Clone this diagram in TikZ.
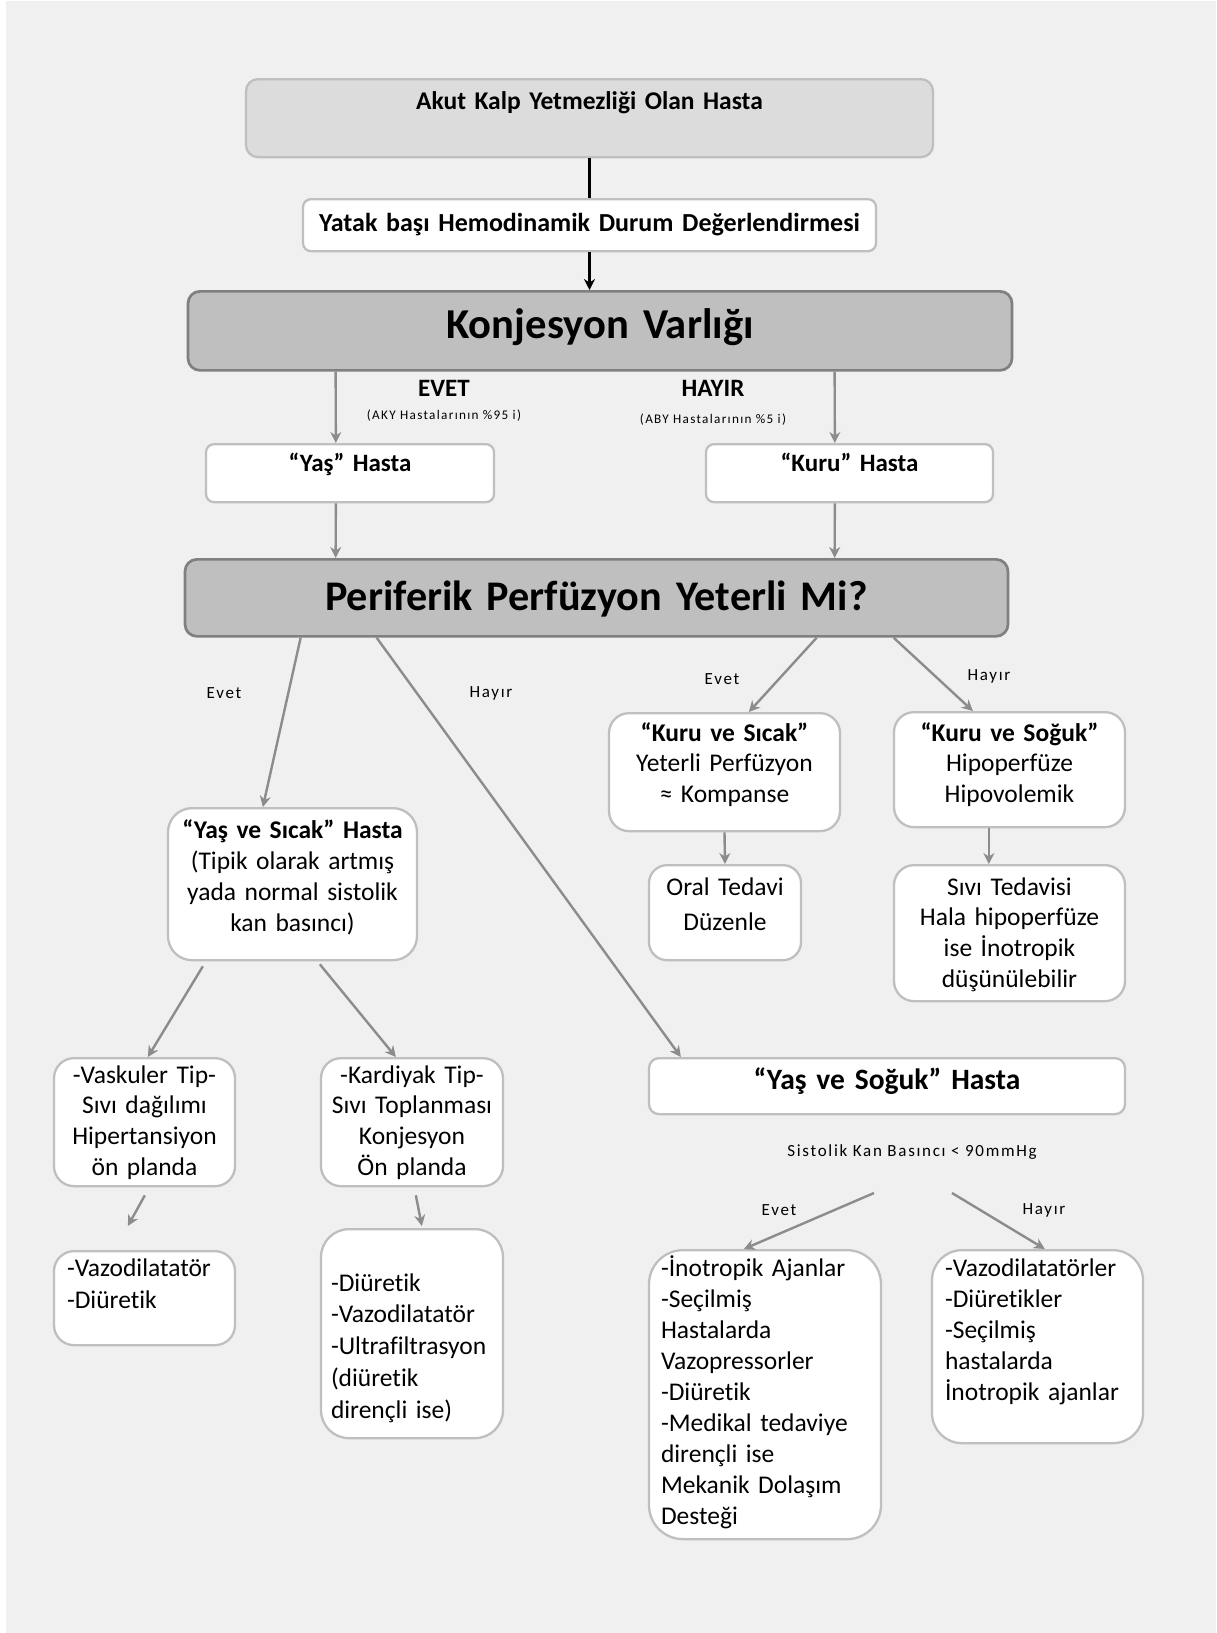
\documentclass[tikz,border=0pt]{standalone}
\usepackage{fontspec}
\setmainfont{Carlito}[Ligatures=NoCommon]
\newfontfamily\spacedfont[LetterSpace=10,Ligatures=NoCommon]{Carlito}
\usetikzlibrary{calc,arrows.meta}
\definecolor{bggrey}{HTML}{F0F0F0}
\definecolor{boxline}{HTML}{BFBFBF}
\definecolor{lightfill}{HTML}{DCDCDC}
\definecolor{darkfill}{HTML}{BFBFBF}
\definecolor{darkline}{HTML}{808080}
\definecolor{connline}{HTML}{8C8C8C}
\tikzset{every node/.style={font=\fontsize{12.75}{15.5}\selectfont},
  box/.style={draw=boxline,fill=white,line width=1.15pt,anchor=north,
    inner ysep=0pt,inner xsep=0pt,align=center},
  darkbox/.style={box,draw=darkline,fill=darkfill,line width=1.35pt,rounded corners=6pt},
  leftbox/.style={box,align=left},
  conn/.style={draw=connline,line width=1.2pt,-{Stealth[length=5.5pt,width=5.5pt]}},
  topline/.style={draw=black,line width=1.6pt},
  smalllabel/.style={font=\spacedfont\fontsize{8.5}{10}\selectfont},
  tinylabel/.style={font=\spacedfont\fontsize{6.6}{8}\selectfont},
  caselabel/.style={font=\bfseries\fontsize{12.5}{15}\selectfont}}

\begin{document}
\begin{tikzpicture}[x=0.5pt,y=-0.5pt]
  \useasboundingbox (0,0) rectangle (1216,1633);
  \fill[white] (0,0) rectangle (1216,1633);
  \fill[bggrey] (6,1) rectangle (1216,1633);
  % top of the chart
  \node[box,fill=lightfill,rounded corners=6pt,text width=343.5pt,text height=15.25pt,
    text depth=23.75pt,font=\bfseries\fontsize{12.75}{15.5}\selectfont] (akut) at (589.5,78)
    {Akut Kalp Yetmezliği Olan Hasta};
  \node[box,rounded corners=4pt,text width=286.5pt,text height=16pt,text depth=10pt,
    font=\bfseries\fontsize{13}{15.5}\selectfont] (yatak) at (589.5,198)
    {Yatak başı Hemodinamik Durum Değerlendirmesi};
  \node[darkbox,text width=412pt,text height=23.5pt,text depth=16pt,
    font=\bfseries\fontsize{21.3}{25}\selectfont] (konj) at (600,290) {Konjesyon Varlığı};
  \draw[topline] (akut.south) -- (yatak.north);
  \draw[topline,-{Stealth[length=5.5pt,width=5.5pt]}] (yatak.south) -- (yatak.south |- konj.north);
  % wet / dry
  \node[caselabel] (evet) at (444,388) {EVET};
  \node[tinylabel] (evetpct) at (444,416) {(AKY Hastalarının \%95 i)};
  \node[caselabel] (hayir) at (713,388) {HAYIR};
  \node[tinylabel] (hayirpct) at (713,420) {(ABY Hastalarının \%5 i)};
  \node[box,rounded corners=4pt,text width=144pt,text height=13.75pt,text depth=15.25pt,
    font=\bfseries\fontsize{12.5}{15}\selectfont] (yas) at (350,443) {“Yaş” Hasta};
  \node[box,rounded corners=4pt,text width=143.5pt,text height=13.75pt,text depth=15.25pt,
    font=\bfseries\fontsize{12.5}{15}\selectfont] (kuru) at (849.5,443) {“Kuru” Hasta};
  \node[darkbox,text width=411.5pt,text height=25.5pt,text depth=13pt,
    font=\bfseries\fontsize{21.1}{25}\selectfont] (perf) at (596.5,558)
    {Periferik Perfüzyon Yeterli Mi?};
  \draw[conn] ($(konj.south west)+(149,0)$) -- ($(yas.north west)+(131,0)$);
  \draw[conn] ($(konj.south west)+(648,0)$) -- ($(kuru.north west)+(130,0)$);
  \draw[conn] ($(yas.south west)+(131,0)$) -- ($(perf.north west)+(152,0)$);
  \draw[conn] ($(kuru.south west)+(130,0)$) -- ($(perf.north west)+(651,0)$);
  % perfusion branches
  \node[smalllabel] (evetsol) at (224,693) {Evet};
  \node[smalllabel] (hayirsol) at (491,693) {Hayır};
  \node[smalllabel] (evetsag) at (722,679) {Evet};
  \node[smalllabel] (hayirsag) at (989,676) {Hayır};
  \node[box,rounded corners=10pt,text width=115.5pt,text height=14pt,text depth=45pt,
    font=\fontsize{12.75}{15.25}\selectfont] (kurusicak) at (724.5,712)
    {\textbf{“Kuru ve Sıcak”}\\Yeterli Perfüzyon\\≈ Kompanse};
  \node[box,rounded corners=10pt,text width=115.5pt,text height=14.5pt,text depth=43pt,
    font=\fontsize{12.75}{15.25}\selectfont] (kurusoguk) at (1009.5,711)
    {\textbf{“Kuru ve Soğuk”}\\Hipoperfüze\\Hipovolemik};
  \node[box,rounded corners=9pt,text width=76pt,text height=15pt,text depth=32.5pt,
    font=\fontsize{12.75}{17.5}\selectfont] (oral) at (725,864) {Oral Tedavi\\Düzenle};
  \node[box,rounded corners=10pt,text width=115.5pt,text height=15pt,text depth=53pt,
    font=\fontsize{12.75}{15.35}\selectfont] (sivi) at (1009.5,864)
    {Sıvı Tedavisi\\Hala hipoperfüze\\ise İnotropik\\düşünülebilir};
  \node[box,rounded corners=12pt,text width=124.5pt,text height=15pt,text depth=61pt,
    font=\fontsize{12.75}{15.6}\selectfont] (yassicak) at (292.5,807)
    {\textbf{“Yaş ve Sıcak” Hasta}\\(Tipik olarak artmış\\yada normal sistolik\\kan basıncı)};
  \draw[conn] ($(perf.south west)+(117,0)$) -- ($(yassicak.north west)+(96,0)$);
  \draw[conn] ($(perf.south west)+(633,0)$) -- ($(kurusicak.north west)+(141,0)$);
  \draw[conn] ($(perf.south west)+(710,0)$) -- ($(kurusoguk.north west)+(80,0)$);
  \draw[conn] (kurusicak.south) -- (oral.north);
  \draw[conn] ($(kurusoguk.south west)+(96,0)$) -- ($(sivi.north west)+(96,0)$);
  % wet and warm
  \node[box,rounded corners=10pt,text width=90.5pt,text height=12.5pt,text depth=51.5pt,
    font=\fontsize{12.75}{15.35}\selectfont] (vaskuler) at (144.5,1057)
    {-Vaskuler Tip-\\Sıvı dağılımı\\Hipertansiyon\\ön planda};
  \node[box,rounded corners=10pt,text width=91pt,text height=12.5pt,text depth=51.5pt,
    font=\fontsize{12.75}{15.35}\selectfont] (kardiyak) at (412,1057)
    {-Kardiyak Tip-\\Sıvı Toplanması\\Konjesyon\\Ön planda};
  \node[leftbox,rounded corners=10pt,inner xsep=6.5pt,text width=77.5pt,text height=12.5pt,
    text depth=34.5pt,font=\fontsize{12.75}{16}\selectfont] (vazo) at (144.5,1250)
    {-Vazodilatatör\\-Diüretik};
  \node[leftbox,rounded corners=14pt,inner xsep=5pt,text width=81pt,text height=31pt,
    text depth=73.5pt,font=\fontsize{12.75}{15.9}\selectfont] (diur) at (412,1228)
    {-Diüretik\\-Vazodilatatör\\-Ultrafiltrasyon\\(diüretik\\dirençli ise)};
  \draw[conn] ($(yassicak.south west)+(36,5)$) -- ($(vaskuler.north west)+(95,0)$);
  \draw[conn] ($(yassicak.south west)+(153,3)$) -- ($(kardiyak.north west)+(76,0)$);
  \draw[conn] ($(vaskuler.south west)+(92,8)$) -- ($(vazo.north west)+(75,-24)$);
  \draw[conn] ($(kardiyak.south west)+(96,8)$) -- ($(diur.north west)+(102,-2)$);
  % wet and cold
  \node[box,rounded corners=5pt,text width=238pt,text height=15.5pt,text depth=12.5pt,
    font=\bfseries\fontsize{14.75}{17}\selectfont] (yassoguk) at (887,1057)
    {“Yaş ve Soğuk” Hasta};
  \draw[conn] ($(perf.south west)+(193,0)$) -- ($(yassoguk.north west)+(33,0)$);
  \node[smalllabel] (sistolik) at (912,1152) {Sistolik Kan Basıncı < 90mmHg};
  \node[smalllabel] (evetalt) at (779,1210) {Evet};
  \node[smalllabel] (hayiralt) at (1044,1210) {Hayır};
  \node[leftbox,rounded corners=17pt,inner xsep=6pt,text width=104pt,text height=13pt,
    text depth=131.5pt,font=\fontsize{12.75}{15.5}\selectfont] (inotrop) at (765,1249)
    {-İnotropik Ajanlar\\-Seçilmiş\\Hastalarda\\Vazopressorler\\-Diüretik\\-Medikal tedaviye\\dirençli ise\\Mekanik Dolaşım\\Desteği};
  \node[leftbox,rounded corners=15pt,inner xsep=6.5pt,text width=92.5pt,text height=13pt,
    text depth=83.5pt,font=\fontsize{12.75}{15.5}\selectfont] (vazolar) at (1037.5,1249)
    {-Vazodilatatörler\\-Diüretikler\\-Seçilmiş\\hastalarda\\İnotropik ajanlar};
  \draw[conn] ($(sistolik)+(-38,41)$) -- ($(inotrop.north west)+(96,0)$);
  \draw[conn] ($(sistolik)+(40,41)$) -- ($(vazolar.north west)+(114,0)$);
\end{tikzpicture}
\end{document}
